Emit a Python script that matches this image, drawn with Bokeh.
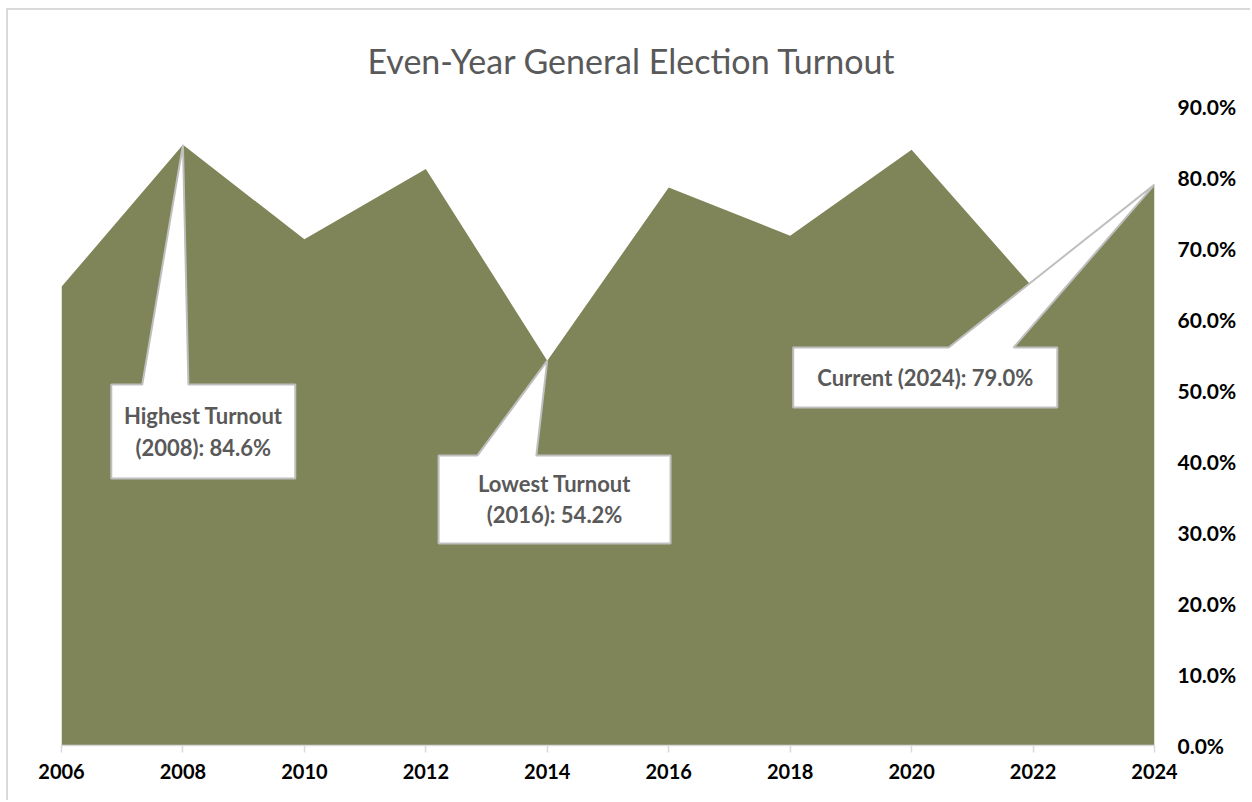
from bokeh.plotting import figure
from bokeh.models import LinearAxis, FixedTicker, NumeralTickFormatter, Range1d
from bokeh.core.properties import value
from bokeh.embed import file_html
from bokeh.resources import INLINE

# ---- data ----
years = [2006, 2008, 2010, 2012, 2014, 2016, 2018, 2020, 2022, 2024]
turnout = [0.646, 0.846, 0.713, 0.812, 0.542, 0.786, 0.718, 0.839, 0.645, 0.790]
y_ticks = [0.0, 0.1, 0.2, 0.3, 0.4, 0.5, 0.6, 0.7, 0.8, 0.9]
title_text = "Even-Year General Election Turnout"

callout_lines = [
    ["Highest Turnout", "(2008): 84.6%"],
    ["Lowest Turnout", "(2016): 54.2%"],
    ["Current (2024): 79.0%"],
]
callout_anchor_year = [2008, 2014, 2024]

# ---- layout of callouts (data units) ----
# box: left, right, bottom, top ; wedge base x0, x1 (on top edge)
callout_box = [
    (2006.82, 2009.85, 0.376, 0.5085, 2007.33, 2008.09),
    (2012.21, 2016.03, 0.2845, 0.4085, 2012.85, 2013.82),
    (2018.05, 2022.40, 0.476, 0.5606, 2020.61, 2021.68),
]
line_gap = 0.0437

AREA = "#7F8558"
GRID_GRAY = "#D9D9D9"
TEXT_GRAY = "#595959"

W, H = 1244, 792
p = figure(width=W, height=H, output_backend="svg", toolbar_location=None,
           x_range=Range1d(2006, 2024), y_range=Range1d(0, 0.9),
           y_axis_location=None,
           min_border_left=53, min_border_right=98, min_border_top=96, min_border_bottom=57)
p.styles = {"margin-left": "6px", "margin-top": "8px",
            "border-left": "2px solid #D9D9D9", "border-top": "2px solid #D9D9D9"}
p.outline_line_color = None
p.xgrid.visible = False
p.ygrid.visible = False
p.background_fill_color = "white"
p.border_fill_color = "white"

# title
p.title.text = title_text
p.title.align = "left"
p.title.offset = 306
p.title.vertical_align = "top"
p.title.text_font = "Lato"
p.title.text_font_style = "normal"
p.title.text_font_size = "34px"
p.title.text_color = TEXT_GRAY
p.title.standoff = 48

p.varea(x=years, y1=[0] * len(years), y2=turnout, fill_color=AREA, fill_alpha=1.0)

# x axis
xa = p.xaxis[0]
xa.ticker = FixedTicker(ticks=years)
xa.axis_line_color = GRID_GRAY
xa.axis_line_width = 1.5
xa.major_tick_line_color = GRID_GRAY
xa.major_tick_line_width = 1.5
xa.major_tick_in = 0
xa.major_tick_out = 7
xa.minor_tick_line_color = None
xa.major_label_text_font = "Lato"
xa.major_label_text_font_style = "bold"
xa.major_label_text_font_size = "20px"
xa.major_label_text_color = "#000000"
xa.major_label_standoff = 11

# right y axis
ya = LinearAxis(ticker=FixedTicker(ticks=y_ticks), formatter=NumeralTickFormatter(format="0.0%"))
ya.axis_line_color = None
ya.major_tick_line_color = None
ya.minor_tick_line_color = None
ya.major_tick_in = 0
ya.major_tick_out = 0
ya.major_label_standoff = 23
ya.major_label_text_font = "Lato"
ya.major_label_text_font_style = "bold"
ya.major_label_text_font_size = "21px"
ya.major_label_text_color = "#000000"
p.add_layout(ya, "right")

# callouts
xs, ys = [], []
tx, ty, tt = [], [], []
for (l, r, b, t, w0, w1), yr, lines in zip(callout_box, callout_anchor_year, callout_lines):
    val = turnout[years.index(yr)]
    xs.append([l, w0, yr, w1, r, r, l])
    ys.append([t, t, val, t, t, b, b])
    cx = (l + r) / 2
    cy = (b + t) / 2
    n = len(lines)
    for i, s in enumerate(lines):
        tx.append(cx)
        ty.append(cy + (n - 1) / 2 * line_gap - i * line_gap)
        tt.append(s)

p.patches(xs=xs, ys=ys, fill_color="white", line_color="#BFBFBF", line_width=2)
p.text(x=tx, y=ty, text=tt, text_font=value("Lato"), text_font_style="bold",
       text_font_size="22px", text_color=TEXT_GRAY, text_align="center", text_baseline="middle")

open("out.html", "w").write(file_html(p, INLINE))
